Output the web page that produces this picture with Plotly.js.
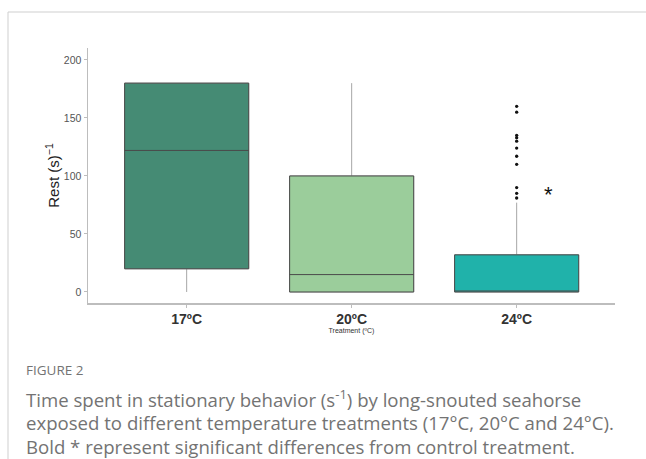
<!DOCTYPE html>
<html>
<head>
<meta charset="utf-8">
<script src="https://cdn.plot.ly/plotly-3.0.1.min.js"></script>
<style>html,body{margin:0;padding:0;background:#fff;}#chart{width:646px;height:459px;}</style>
</head>
<body>
<div id="chart"></div>
<script>
// Data
const categories = ["17ºC", "20ºC", "24ºC"];
const q1Values = [20, 0, 0];
const medianValues = [122, 15, 0];
const q3Values = [180, 100, 32];
const lowerWhisker = [0, 0, 0];
const upperWhisker = [180, 180, 77];
const boxColors = ["#458B74", "#9BCD9B", "#20B2AA"];
const outliers24 = [160, 155, 135, 133, 130, 124, 117, 110, 90, 85, 81];
const starLabel = "*";

const pos = categories.map((c, i) => i);
const traces = [];
// whisker layer (light grey lines)
traces.push({
  type: "box",
  x: pos,
  q1: q1Values, median: medianValues, q3: q3Values,
  lowerfence: lowerWhisker, upperfence: upperWhisker,
  width: 0.752, whiskerwidth: 0,
  fillcolor: "rgba(0,0,0,0)",
  line: {color: "#a6a6a6", width: 1},
  hoverinfo: "skip", showlegend: false
});
// boxes on top
categories.forEach((c, i) => {
  traces.push({
    type: "box",
    x: [pos[i]],
    q1: [q1Values[i]], median: [medianValues[i]], q3: [q3Values[i]],
    lowerfence: [q1Values[i]], upperfence: [q3Values[i]],
    width: 0.752, whiskerwidth: 0,
    fillcolor: boxColors[i],
    line: {color: "#4a4a4a", width: 1},
    showlegend: false, name: c
  });
});
traces.push({
  type: "scatter", mode: "markers",
  x: outliers24.map(() => pos[2]), y: outliers24,
  marker: {color: "#111", size: 3.3},
  showlegend: false, hoverinfo: "y"
});

const L = 88, R = 615, T = 48, B = 303;
const px = x => (x - L) / (R - L);
const py = y => (B - y) / (B - T);

const captionFont = {family: "Open Sans, Noto Sans, sans-serif", size: 18.6, color: "#737373"};

const layout = {
  width: 646, height: 459,
  margin: {l: L, r: 646 - R, t: T, b: 459 - B, pad: 0},
  paper_bgcolor: "#fff", plot_bgcolor: "#fff",
  boxmode: "overlay",
  xaxis: {
    range: [-0.598, 2.596], tickvals: pos, ticktext: categories,
    showgrid: false, zeroline: false, showline: true, linecolor: "#bdbdbd", linewidth: 1.5,
    ticks: "outside", ticklen: 3, tickcolor: "#bdbdbd",
    tickfont: {family: "Liberation Sans, Arial, sans-serif", size: 14, color: "#333", weight: "bold"},
    title: {text: "Treatment (ºC)", font: {family: "Liberation Sans, Arial, sans-serif", size: 7, color: "#333"}, standoff: 2}
  },
  yaxis: {
    range: [-9.5, 210.3], tickvals: [0, 50, 100, 150, 200],
    showgrid: false, zeroline: false, showline: true, linecolor: "#bdbdbd", linewidth: 1.5,
    ticks: "outside", ticklen: 3, tickcolor: "#bdbdbd",
    tickfont: {family: "Liberation Sans, Arial, sans-serif", size: 10.5, color: "#555"},
    title: {text: "Rest (s)<sup>−1</sup>", font: {family: "Liberation Sans, Arial, sans-serif", size: 15, color: "#222"}, standoff: 0}
  },
  shapes: [
    {type: "line", xref: "paper", yref: "paper", x0: px(8), x1: px(646), y0: py(12), y1: py(12), line: {color: "#cfcfcf", width: 1}},
    {type: "line", xref: "paper", yref: "paper", x0: px(8), x1: px(8), y0: py(12), y1: py(459), line: {color: "#cfcfcf", width: 1}}
  ],
  annotations: [
    {x: 2.19, y: 84, xref: "x", yref: "y", text: starLabel, showarrow: false,
     font: {family: "Liberation Sans, Arial, sans-serif", size: 22, color: "#111"}},
    {x: px(24), y: py(370), xref: "paper", yref: "paper", xanchor: "left", yanchor: "middle", showarrow: false,
     text: "FIGURE 2", font: {family: "Open Sans, Noto Sans, sans-serif", size: 13.5, color: "#737373"}},
    {x: px(24), y: py(398), xref: "paper", yref: "paper", xanchor: "left", yanchor: "middle", showarrow: false,
     text: "Time spent in stationary behavior (s<sup>-1</sup>) by long-snouted seahorse", font: captionFont},
    {x: px(24), y: py(422), xref: "paper", yref: "paper", xanchor: "left", yanchor: "middle", showarrow: false,
     text: "exposed to different temperature treatments (17°C, 20°C and 24°C).", font: captionFont},
    {x: px(24), y: py(446), xref: "paper", yref: "paper", xanchor: "left", yanchor: "middle", showarrow: false,
     text: "Bold * represent significant differences from control treatment.", font: captionFont}
  ]
};

Plotly.newPlot("chart", traces, layout, {displayModeBar: false, staticPlot: true});
</script>
</body>
</html>
